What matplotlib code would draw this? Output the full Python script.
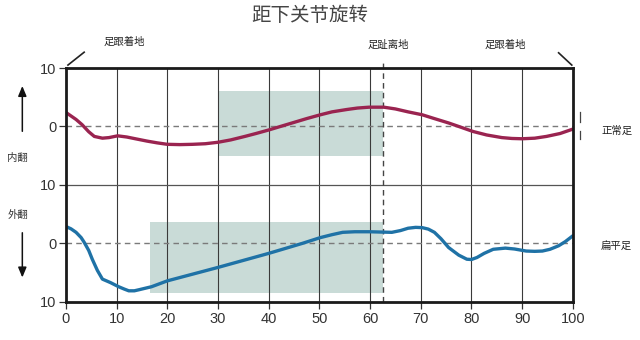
import matplotlib
matplotlib.use("Agg")
import matplotlib.pyplot as plt
import numpy as np

plt.rcParams['font.family'] = ['Noto Sans CJK SC', 'DejaVu Sans']

# Gait cycle (%) and subtalar rotation (degrees) for the two feet
normal_x = [0, 2, 3.2, 4.5, 5.6, 7.2, 8.5, 10.2, 12, 13.7, 16, 18, 20, 22.5, 25, 27.5,
            30, 32.5, 35.3, 37.5, 40, 42.5, 45, 47.5, 50.2, 52.5, 55.4, 57.5, 59.8, 62.7,
            65, 67.5, 70.3, 72.5, 75.5, 78, 80.3, 83, 86, 88, 90, 92.5, 94.8, 97.5, 100]
normal_y = [2.4, 1.2, 0.3, -0.9, -1.7, -2.0, -1.9, -1.6, -1.8, -2.1, -2.5, -2.8, -3.05,
            -3.1, -3.05, -2.95, -2.7, -2.3, -1.7, -1.2, -0.6, 0.05, 0.7, 1.35, 2.0, 2.5,
            2.9, 3.15, 3.3, 3.3, 3.0, 2.5, 2.0, 1.4, 0.6, -0.15, -0.85, -1.45, -1.9, -2.05,
            -2.1, -2.0, -1.7, -1.2, -0.45]

flat_x = [0, 1, 2, 3, 3.6, 4.5, 5.2, 6.2, 7.2, 8.8, 10.4, 11.5, 12.4, 13.5, 14.5, 16.9,
          20, 25, 30, 35, 40, 43.5, 46.6, 50.2, 52.5, 54.6, 57, 59.8, 62, 64.3, 66,
          67.5, 69, 70.3, 71.5, 72.7, 74, 75.5, 77.5, 79.1, 80, 81.1, 82.5, 84.3, 86.7,
          88.5, 90.8, 92.5, 94, 95.5, 97.2, 98.5, 100]
flat_y = [2.9, 2.5, 1.9, 1.0, 0.2, -1.2, -2.7, -4.6, -6.1, -6.7, -7.4, -7.8, -8.1, -8.1,
          -7.9, -7.4, -6.4, -5.25, -4.1, -2.9, -1.7, -0.8, 0.0, 1.0, 1.5, 1.9, 2.0, 2.0,
          1.95, 1.9, 2.2, 2.6, 2.75, 2.7, 2.45, 1.9, 0.8, -0.7, -2.0, -2.7, -2.75, -2.4,
          -1.7, -1.0, -0.8, -0.95, -1.3, -1.35, -1.3, -1.0, -0.4, 0.3, 1.3]

# Shaded ranges: (x start, x end, low, high)
normal_band = (30, 62.5, -5, 6)
flat_band = (16.5, 62.5, -8.4, 3.7)

toe_off = 62.5
x_ticks = list(range(0, 101, 10))
y_tick_labels = ['10', '0', '10', '0', '10']

# Two stacked panels share one axis: upper panel centred on +10, lower on -10
UP, LOW = 10, -10

maroon = '#9a2450'
blue = '#1f72a6'
band_col = '#c9dbd7'
num_font = ['Liberation Sans', 'DejaVu Sans']

fig = plt.figure(figsize=(6.4, 3.4), dpi=100)
ax = fig.add_axes([0.103, 0.112, 0.792, 0.688])
ax.set_xlim(0, 100)
ax.set_ylim(-20, 20)

# shaded bands
for (x0, x1, lo, hi), off in [(normal_band, UP), (flat_band, LOW)]:
    ax.fill_between([x0, x1], off + lo, off + hi, color=band_col, lw=0, zorder=1)

# vertical grid
for x in x_ticks[1:-1]:
    ax.axvline(x, color='#3a3a3a', lw=0.8, zorder=2)
ax.axhline(0, color='#555555', lw=0.9, zorder=2)

# zero reference lines
for off in (UP, LOW):
    ax.axhline(off, color='#7a7a7a', lw=1.0, ls=(0, (4, 3)), zorder=2)

# toe-off marker
ax.plot([toe_off, toe_off], [-20, 21.1], color='#444444', lw=1.0, ls=(0, (4, 3)),
        clip_on=False, zorder=2)

# curves
ax.plot(normal_x, np.array(normal_y) + UP, color=maroon, lw=2.4, zorder=4,
        solid_joinstyle='round', solid_capstyle='round')
ax.plot(flat_x, np.array(flat_y) + LOW, color=blue, lw=2.4, zorder=4,
        solid_joinstyle='round', solid_capstyle='round')

# frame
for s in ax.spines.values():
    s.set_linewidth(2.0)
    s.set_color('#1a1a1a')
    s.set_zorder(5)

ax.set_xticks(x_ticks)
ax.set_xticklabels([str(v) for v in x_ticks], family=num_font)
ax.set_yticks([20, 10, 0, -10, -20])
ax.set_yticklabels(y_tick_labels, family=num_font)
ax.tick_params(axis='both', length=5, width=0.9, color='#333333', labelsize=10.5,
               labelcolor='#333333', pad=2)

# title
fig.text(0.484, 0.955, '距下关节旋转', ha='center', va='center', fontsize=14,
         color='#444444', fontweight='light')

# event labels
ax.text(11.5, 24.4, '足跟着地', ha='center', va='center', fontsize=7.5, color='#222222')
ax.text(63.6, 24.0, '足趾离地', ha='center', va='center', fontsize=7.5, color='#222222')
ax.text(86.7, 24.0, '足跟着地', ha='center', va='center', fontsize=7.5, color='#222222')
ax.plot([0.4, 3.6], [20.5, 22.7], color='#222222', lw=1.2, clip_on=False)
ax.plot([97.2, 99.8], [22.6, 20.5], color='#222222', lw=1.2, clip_on=False)

# direction arrows and labels on the left
ax.annotate('', xy=(-8.6, 17.4), xytext=(-8.6, 8.7), xycoords='data',
            arrowprops=dict(arrowstyle='-|>,head_width=0.25,head_length=0.6',
                            color='#111111', lw=1.1), annotation_clip=False)
ax.annotate('', xy=(-8.6, -16.3), xytext=(-8.6, -7.7), xycoords='data',
            arrowprops=dict(arrowstyle='-|>,head_width=0.25,head_length=0.6',
                            color='#111111', lw=1.1), annotation_clip=False)
ax.text(-9.5, 4.6, '内翻', ha='center', va='center', fontsize=7.5, color='#333333')
ax.text(-9.5, -5.1, '外翻', ha='center', va='center', fontsize=7.5, color='#333333')

# series labels on the right
ax.text(108.8, 9.2, '正常足', ha='center', va='center', fontsize=7.5, color='#222222')
ax.text(108.6, -10.4, '扁平足', ha='center', va='center', fontsize=7.5, color='#222222')

# small variance marks beside the normal curve
ax.plot([101.5, 101.5], [12.4, 10.7], color='#444444', lw=0.9, clip_on=False)
ax.plot([101.5, 101.5], [9.3, 7.9], color='#444444', lw=0.9, clip_on=False)

fig.savefig('out.png', dpi=100)
